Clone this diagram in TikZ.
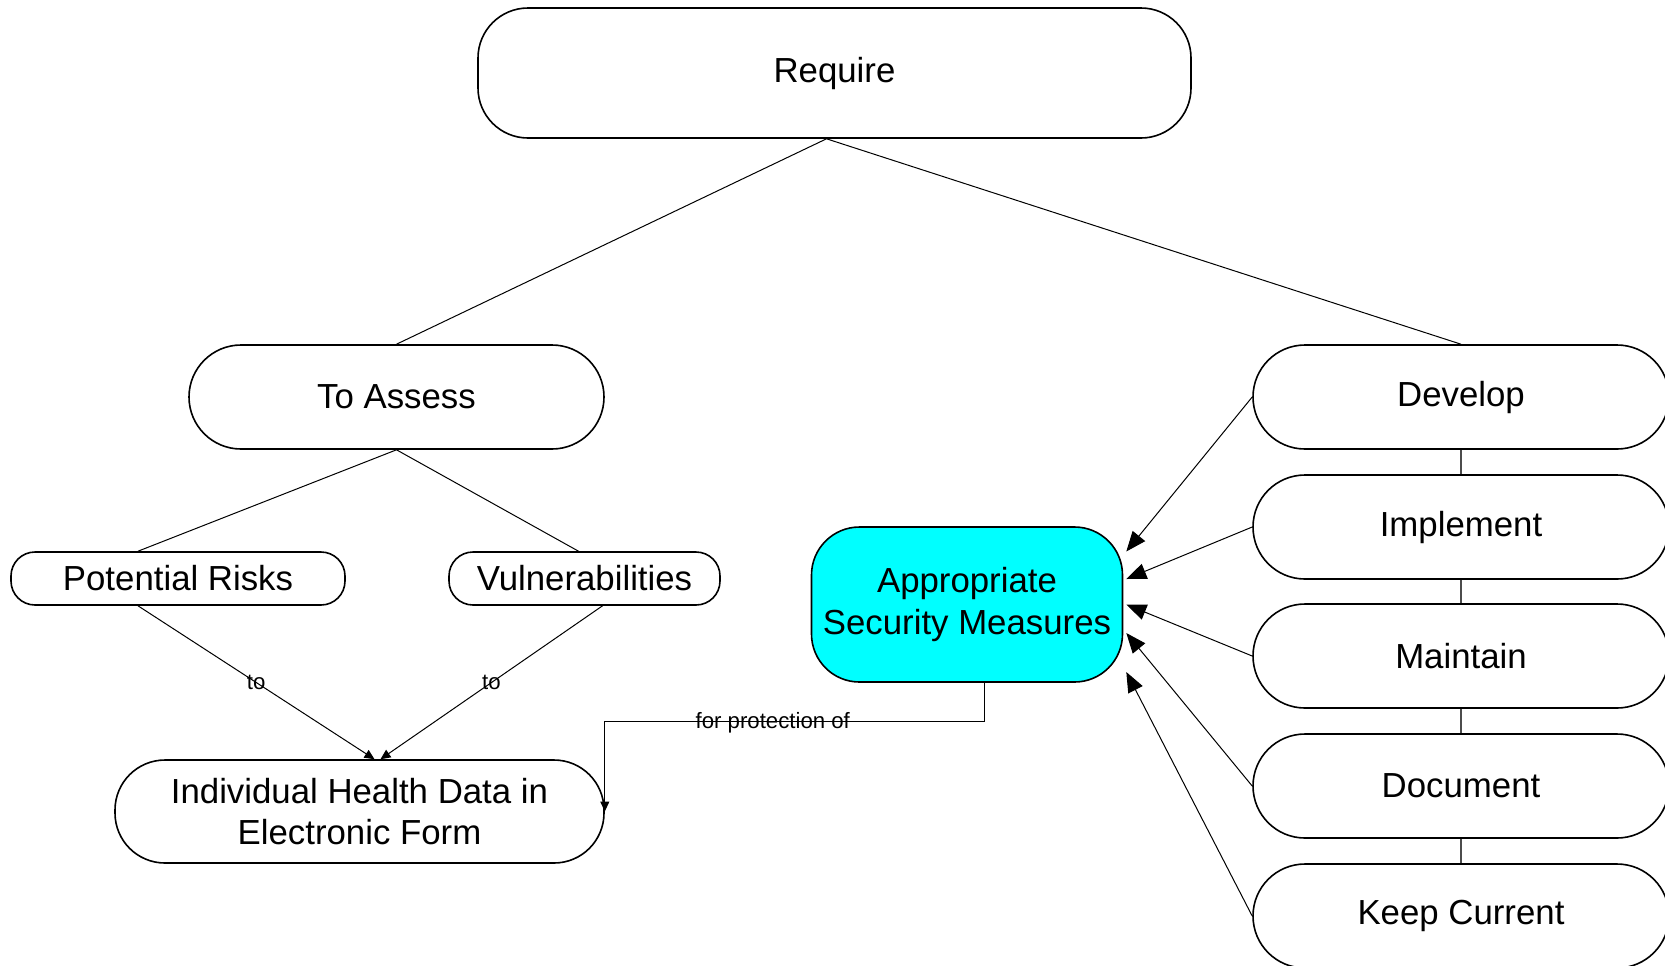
\documentclass[tikz,border=0pt]{standalone}
\usepackage{fontspec}
\setmainfont{Liberation Sans}
\usetikzlibrary{arrows.meta,calc}
\definecolor{asmcyan}{RGB}{0,255,255}
\begin{document}
\begin{tikzpicture}[x=0.5pt,y=-0.5pt,
  box/.style={draw=black,line width=0.8pt,fill=white,inner sep=0pt,align=center,
    font=\fontsize{17.4}{20.7}\selectfont},
  capsule/.style={box,minimum width=208pt,minimum height=52pt,rounded corners=26pt},
  conn/.style={draw=black,line width=0.5pt},
  link/.style={draw=black!70,line width=0.8pt},
  bigarrow/.style={conn,-{Triangle[length=10pt,width=8pt]}},
  smallarrow/.style={conn,-{Triangle[length=5pt,width=4.5pt]}},
  lbl/.style={inner sep=0pt,font=\fontsize{11.1}{13}\selectfont}
]
\useasboundingbox (0,0) rectangle (1665,965);
\clip (0,0) rectangle (1665,965);

% nodes
\node[box,minimum width=356.5pt,minimum height=65pt,rounded corners=25pt] (req) at (834.5,73) {Require};
\node[box,minimum width=207.5pt,minimum height=52pt,rounded corners=26pt] (assess) at (396.5,397) {To Assess};
\node[box,minimum width=167pt,minimum height=26.5pt,rounded corners=12pt] (pr) at (178,578.5) {Potential Risks};
\node[box,minimum width=135.5pt,minimum height=26.5pt,rounded corners=12pt] (vul) at (584.5,578.5) {Vulnerabilities};
\node[box,minimum width=244.5pt,minimum height=51.5pt,rounded corners=25pt] (ihd) at (359.5,811.5) {Individual Health Data in\\Electronic Form};
\node[box,fill=asmcyan,minimum width=155.5pt,minimum height=77.5pt,rounded corners=24pt] (asm) at (967,604.5) {Appropriate\\Security Measures};

\node[capsule] (dev) at (1461,397) {Develop};
\node[capsule] (imp) at (1461,527) {Implement};
\node[capsule] (mnt) at (1461,656) {Maintain};
\node[capsule] (doc) at (1461,786) {Document};
\node[capsule] (keep) at (1461,916) {Keep Current};

% tree lines
\draw[conn] ([xshift=-4pt]req.south) -- (assess.north);
\draw[conn] ([xshift=-4pt]req.south) -- (dev.north);
\draw[conn] (assess.south) -- ([xshift=-20pt]pr.north);
\draw[conn] (assess.south) -- ([xshift=-3pt]vul.north);

\draw[smallarrow] ([xshift=-20pt]pr.south) -- node[lbl] {to} ([xshift=7.5pt]ihd.north);
\draw[smallarrow] ([xshift=9pt]vul.south) -- node[lbl] {to} ([xshift=10.5pt]ihd.north);

% right column links
\draw[link] (dev.south) -- (imp.north);
\draw[link] (imp.south) -- (mnt.north);
\draw[link] (mnt.south) -- (doc.north);
\draw[link] (doc.south) -- (keep.north);

% arrows to ASM
\draw[bigarrow] (dev.west) -- ([xshift=1.5pt,yshift=26.5pt]asm.east);
\draw[bigarrow] (imp.west) -- ([xshift=1.5pt,yshift=12.75pt]asm.east);
\draw[bigarrow] (mnt.west) -- ([xshift=1.5pt]asm.east);
\draw[bigarrow] (doc.west) -- ([xshift=1.5pt,yshift=-14.25pt]asm.east);
\draw[bigarrow] (keep.west) -- ([xshift=1.5pt,yshift=-33.75pt]asm.east);

% for protection of
\path (0,721) coordinate (hy);
\coordinate (elb) at (ihd.east |- hy);
\coordinate (pa) at ($(asm.south)+(17,0)$);
\coordinate (pb) at (pa |- hy);
\draw[smallarrow] (pa) -- (pb) -- node[lbl,pos=0.557,yshift=-1pt] {for protection of} (elb) -- (ihd.east);

\end{tikzpicture}
\end{document}
